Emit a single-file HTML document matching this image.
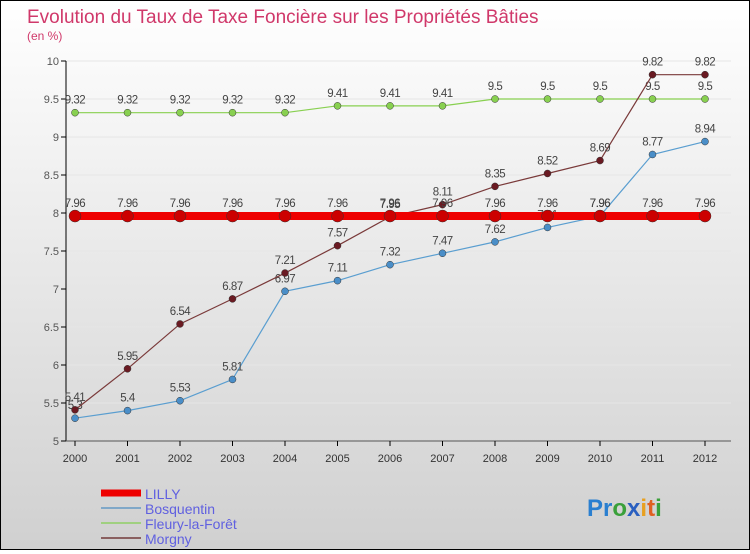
<!DOCTYPE html>
<html><head><meta charset="utf-8"><style>
html,body{margin:0;padding:0}
body{width:750px;height:550px;overflow:hidden;font-family:"Liberation Sans",sans-serif}
#wrap{position:relative;width:748px;height:548px;border:1px solid #000;background:linear-gradient(#ffffff,#d0d0d0)}
</style></head><body>
<div id="wrap">
<svg id="chart" width="748" height="548">
<text x="26" y="22" font-size="19" fill="#d0386a">Evolution du Taux de Taxe Foncière sur les Propriétés Bâties</text>
<text x="26" y="39" font-size="12" fill="#d0386a">(en %)</text>
<g id="grid"></g><g id="axes"></g><g id="series"></g><g id="legend"></g>
<text x="586" y="515" font-size="24" font-weight="bold"><tspan fill="#2a7fd0">Pr</tspan><tspan fill="#3aa03a">o</tspan><tspan fill="#2a5fc0">x</tspan><tspan fill="#e8a020">i</tspan><tspan fill="#e06020">t</tspan><tspan fill="#3aa03a">i</tspan></text>
</svg>
</div>
<script>
const years=[2000,2001,2002,2003,2004,2005,2006,2007,2008,2009,2010,2011,2012];
const yTicks=[5,5.5,6,6.5,7,7.5,8,8.5,9,9.5,10];
const lilly=[7.96,7.96,7.96,7.96,7.96,7.96,7.96,7.96,7.96,7.96,7.96,7.96,7.96];
const bosquentin=[5.3,5.4,5.53,5.81,6.97,7.11,7.32,7.47,7.62,7.81,7.96,8.77,8.94];
const fleury=[9.32,9.32,9.32,9.32,9.32,9.41,9.41,9.41,9.5,9.5,9.5,9.5,9.5];
const morgny=[5.41,5.95,6.54,6.87,7.21,7.57,7.95,8.11,8.35,8.52,8.69,9.82,9.82];
const NS="http://www.w3.org/2000/svg";
const x=i=>74+i*52.5;
const y=v=>440-(v-5)*76;
function mk(tag,attrs,parent){const e=document.createElementNS(NS,tag);for(const k in attrs)e.setAttribute(k,attrs[k]);parent.appendChild(e);return e;}
const grid=document.getElementById('grid'),axes=document.getElementById('axes'),ser=document.getElementById('series'),leg=document.getElementById('legend');
yTicks.forEach(t=>{
 const l=mk('line',{x1:65,x2:730,y1:y(t),y2:y(t),stroke:'#e6e6e6','stroke-width':1},grid);
 
 
 const tk=mk('line',{x1:60,x2:65,y1:y(t),y2:y(t),stroke:'#000'},axes);
 
 
 const tx=mk('text',{x:58,y:y(t)+4,'font-size':11,fill:'#555','text-anchor':'end'},axes);
 tx.textContent=String(t);
 
 
});
const ya=mk('line',{x1:65,x2:65,y1:y(10),y2:y(5),stroke:'#000'},axes);


const xa=mk('line',{x1:65,x2:730,y1:y(5),y2:y(5),stroke:'#555'},axes);


years.forEach((yr,i)=>{
 const tk=mk('line',{x1:x(i),x2:x(i),y1:y(5),y2:y(5)+5,stroke:'#000'},axes);
 
 
 const tx=mk('text',{x:x(i),y:y(5)+21,'font-size':11,fill:'#333','text-anchor':'middle'},axes);
 tx.textContent=String(yr);
 
 
});
function draw(vals,color,lw,r,dot,name){
 const g=mk('g',{},ser);
 
 
 const pl=mk('polyline',{points:vals.map((v,i)=>x(i)+','+y(v)).join(' '),fill:'none',stroke:color,'stroke-width':lw},g);
 
 
 vals.forEach((v,i)=>{
  const c=mk('circle',{cx:x(i),cy:y(v),r:r,fill:dot,stroke:'#333','stroke-width':0.5},g);
  
  
  const t=mk('text',{x:x(i),y:y(v)-9,'font-size':11.5,fill:'#444','text-anchor':'middle','letter-spacing':'-0.5'},g);
  t.textContent=String(v);
  
  
 });
}
draw(fleury,'#88d050',1.2,3.5,'#88d050','fleury');
draw(bosquentin,'#5a9ed0',1.2,3.5,'#4a8ec8','bosquentin');
draw(morgny,'#7a3a3a',1.2,3.5,'#6a1a22','morgny');
draw(lilly,'#ee0000',8,6,'#cc0000','lilly');
const items=[['LILLY','#ee0000',7],['Bosquentin','#80a8c8',2],['Fleury-la-Forêt','#a0d080',2],['Morgny','#8a6060',2]];
items.forEach((it,i)=>{
 const yy=492+i*15;
 const l=mk('line',{x1:100,x2:140,y1:yy,y2:yy,stroke:it[1],'stroke-width':it[2]},leg);
 
 
 const t=mk('text',{x:144,y:yy+6,'font-size':14,fill:'#6060e0'},leg);
 t.textContent=it[0];
 
 
});
</script>
</body></html>
